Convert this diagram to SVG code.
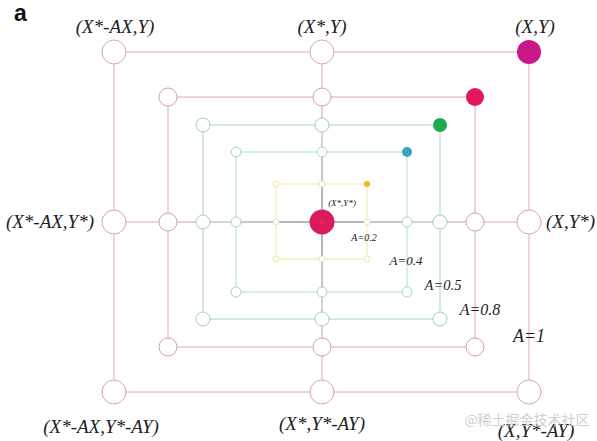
<svg xmlns="http://www.w3.org/2000/svg" width="597" height="441" viewBox="0 0 597 441">
<style>
.lbl{font-family:"Liberation Serif","Times New Roman",serif;font-style:italic;fill:#222}
.c1{fill:#fff;stroke:#d9a0b8;stroke-width:1}
.c8{fill:#fff;stroke:#d99cb4;stroke-width:1}
.c5{fill:#fff;stroke:#9fcfae;stroke-width:1}
.c4{fill:#fff;stroke:#a6d3d6;stroke-width:1}
.c2{fill:#fff;stroke:#efe6a0;stroke-width:1}
.e1{fill:none;stroke:#e0a8c0;stroke-width:1}
.e8{fill:none;stroke:#e0a2ba;stroke-width:1}
.e5{fill:none;stroke:#abd6b8;stroke-width:1}
.e4{fill:none;stroke:#b2dadc;stroke-width:1}
.e2{fill:none;stroke:#f2eaa6;stroke-width:1}
.s1{stroke:#dca6bd;stroke-width:1}
.s2{stroke:#c7a0ae;stroke-width:1}
.s3{stroke:#a4aaa6;stroke-width:1}
.s4{stroke:#8e8e8e;stroke-width:1}
.s5{stroke:#6e6e6e;stroke-width:1}
</style>
<rect width="597" height="441" fill="#fff"/>
<text x="14" y="21" font-family="Liberation Sans, Arial, sans-serif" font-weight="bold" font-size="23" fill="#111">a</text>
<g id="connectors">
<rect class="e1" x="114" y="52" width="415" height="340"/>
<rect class="e8" x="168" y="97" width="307" height="250"/>
<rect class="e5" x="203" y="125" width="237" height="194"/>
<rect class="e4" x="236" y="152" width="171" height="140"/>
<rect class="e2" x="276" y="184" width="91" height="75"/>
<line class="s1" x1="322" y1="52" x2="322" y2="97"/>
<line class="s2" x1="322" y1="97" x2="322" y2="125"/>
<line class="s3" x1="322" y1="125" x2="322" y2="152"/>
<line class="s4" x1="322" y1="152" x2="322" y2="184"/>
<line class="s5" x1="322" y1="184" x2="322" y2="259"/>
<line class="s4" x1="322" y1="259" x2="322" y2="292"/>
<line class="s3" x1="322" y1="292" x2="322" y2="319"/>
<line class="s2" x1="322" y1="319" x2="322" y2="347"/>
<line class="s1" x1="322" y1="347" x2="322" y2="392"/>
<line class="s1" x1="114" y1="222" x2="168" y2="222"/>
<line class="s2" x1="168" y1="222" x2="203" y2="222"/>
<line class="s3" x1="203" y1="222" x2="236" y2="222"/>
<line class="s4" x1="236" y1="222" x2="276" y2="222"/>
<line class="s5" x1="276" y1="222" x2="367" y2="222"/>
<line class="s4" x1="367" y1="222" x2="407" y2="222"/>
<line class="s3" x1="407" y1="222" x2="440" y2="222"/>
<line class="s2" x1="440" y1="222" x2="475" y2="222"/>
<line class="s1" x1="475" y1="222" x2="529" y2="222"/>
</g>
<g id="level-1">
<g id="n1-tl"><circle class="c1" cx="114" cy="52" r="12"/><text class="lbl" x="115" y="33" font-size="19" text-anchor="middle">(X*-AX,Y)</text></g>
<g id="n1-t"><circle class="c1" cx="322" cy="52" r="12"/><text class="lbl" x="322" y="33" font-size="19" text-anchor="middle">(X*,Y)</text></g>
<g id="n1-tr"><circle cx="529" cy="52" r="12" fill="#c9188a"/><text class="lbl" x="535" y="33" font-size="19" text-anchor="middle">(X,Y)</text></g>
<g id="n1-l"><circle class="c1" cx="114" cy="222" r="12"/><text class="lbl" x="94" y="228" font-size="19" text-anchor="end">(X*-AX,Y*)</text></g>
<g id="n1-r"><circle class="c1" cx="529" cy="222" r="12"/><text class="lbl" x="546" y="228" font-size="19">(X,Y*)</text></g>
<g id="n1-bl"><circle class="c1" cx="114" cy="392" r="12"/><text class="lbl" x="101" y="433" font-size="19" text-anchor="middle">(X*-AX,Y*-AY)</text></g>
<g id="n1-b"><circle class="c1" cx="322" cy="392" r="12"/><text class="lbl" x="322" y="430" font-size="19" text-anchor="middle">(X*,Y*-AY)</text></g>
<g id="n1-br"><circle class="c1" cx="529" cy="392" r="12"/><text class="lbl" x="536" y="437" font-size="19" text-anchor="middle">(X,Y*-AY)</text></g>
</g>
<g id="level-08">
<g id="n8-tl"><circle class="c8" cx="168" cy="97" r="9"/></g>
<g id="n8-t"><circle class="c8" cx="322" cy="97" r="9"/></g>
<g id="n8-tr"><circle cx="475" cy="97" r="9" fill="#e2185c"/></g>
<g id="n8-l"><circle class="c8" cx="168" cy="222" r="9"/></g>
<g id="n8-r"><circle class="c8" cx="475" cy="222" r="9"/></g>
<g id="n8-bl"><circle class="c8" cx="168" cy="347" r="9"/></g>
<g id="n8-b"><circle class="c8" cx="322" cy="347" r="9"/></g>
<g id="n8-br"><circle class="c8" cx="475" cy="347" r="9"/></g>
</g>
<g id="level-05">
<g id="n5-tl"><circle class="c5" cx="203" cy="125" r="7"/></g>
<g id="n5-t"><circle class="c5" cx="322" cy="125" r="7"/></g>
<g id="n5-tr"><circle cx="440" cy="125" r="7" fill="#1fa84e"/></g>
<g id="n5-l"><circle class="c5" cx="203" cy="222" r="7"/></g>
<g id="n5-r"><circle class="c5" cx="440" cy="222" r="7"/></g>
<g id="n5-bl"><circle class="c5" cx="203" cy="319" r="7"/></g>
<g id="n5-b"><circle class="c5" cx="322" cy="319" r="7"/></g>
<g id="n5-br"><circle class="c5" cx="440" cy="319" r="7"/></g>
</g>
<g id="level-04">
<g id="n4-tl"><circle class="c4" cx="236" cy="152" r="5"/></g>
<g id="n4-t"><circle class="c4" cx="322" cy="152" r="5"/></g>
<g id="n4-tr"><circle cx="407" cy="152" r="5" fill="#36a6b8"/></g>
<g id="n4-l"><circle class="c4" cx="236" cy="222" r="5"/></g>
<g id="n4-r"><circle class="c4" cx="407" cy="222" r="5"/></g>
<g id="n4-bl"><circle class="c4" cx="236" cy="292" r="5"/></g>
<g id="n4-b"><circle class="c4" cx="322" cy="292" r="5"/></g>
<g id="n4-br"><circle class="c4" cx="407" cy="292" r="5"/></g>
</g>
<g id="level-02">
<g id="n2-tl"><circle class="c2" cx="276" cy="184" r="3"/></g>
<g id="n2-t"><circle class="c2" cx="322" cy="184" r="3"/></g>
<g id="n2-tr"><circle cx="367" cy="184" r="3" fill="#f0b81c"/></g>
<g id="n2-l"><circle class="c2" cx="276" cy="222" r="3"/></g>
<g id="n2-r"><circle class="c2" cx="367" cy="222" r="3"/></g>
<g id="n2-bl"><circle class="c2" cx="276" cy="259" r="3"/></g>
<g id="n2-b"><circle class="c2" cx="322" cy="259" r="3"/></g>
<g id="n2-br"><circle class="c2" cx="367" cy="259" r="3"/></g>
</g>
<g id="center">
<circle cx="322" cy="222" r="12.5" fill="#d81b5e"/>
<circle cx="322" cy="222" r="2.5" fill="#ff1f4f"/>
<text class="lbl" x="342" y="206" font-size="9" text-anchor="middle">(X*,Y*)</text>
</g>
<g id="labels">
<text class="lbl" x="364" y="241" font-size="10" text-anchor="middle">A=0.2</text>
<text class="lbl" x="406" y="265" font-size="13" text-anchor="middle">A=0.4</text>
<text class="lbl" x="443" y="290" font-size="14.5" text-anchor="middle">A=0.5</text>
<text class="lbl" x="480" y="315" font-size="16" text-anchor="middle">A=0.8</text>
<text class="lbl" x="529" y="342" font-size="18" text-anchor="middle">A=1</text>
</g>
<text x="527" y="425" font-family="Noto Sans CJK SC, sans-serif" font-size="14" fill="#c8c8c8" text-anchor="middle" opacity="0.85">@稀土掘金技术社区</text>
</svg>
